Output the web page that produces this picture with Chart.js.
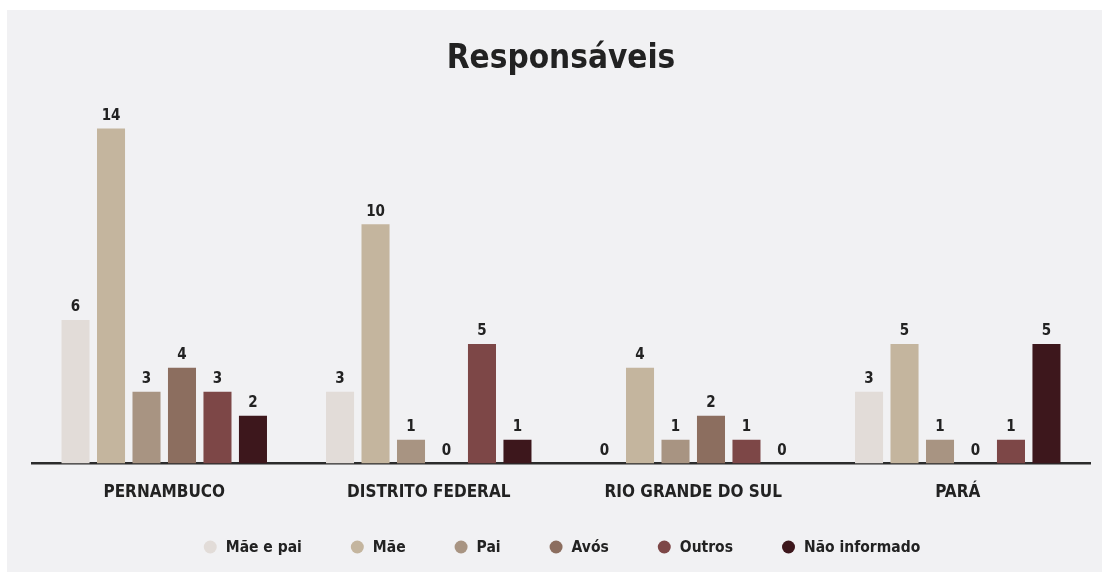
<!DOCTYPE html>
<html>
<head>
<meta charset="utf-8">
<script src="https://cdn.jsdelivr.net/npm/chart.js@4.4.1/dist/chart.umd.min.js"></script>
<style>
  html, body { margin: 0; padding: 0; background: #ffffff; }
  #wrap { width: 1102px; height: 572px; position: relative; }
</style>
</head>
<body>
<div id="wrap"><canvas id="chart"></canvas></div>
<script>
const categories = ['PERNAMBUCO', 'DISTRITO FEDERAL', 'RIO GRANDE DO SUL', 'PARÁ'];
const maeEPai = [6, 3, 0, 3];
const mae = [14, 10, 4, 5];
const pai = [3, 1, 1, 1];
const avos = [4, 0, 2, 0];
const outros = [3, 5, 1, 1];
const naoInformado = [2, 1, 0, 5];
const seriesNames = ['Mãe e pai', 'Mãe', 'Pai', 'Avós', 'Outros', 'Não informado'];
const seriesColors = ['#e2dcd8', '#c4b59e', '#a89482', '#8c6e5f', '#7d4747', '#3d171c'];

const FONT = "'DejaVu Sans Condensed', 'Liberation Sans Narrow', sans-serif";

// grey panel behind the chart
const panelBg = {
  id: 'panelBg',
  beforeDraw(chart) {
    const ctx = chart.ctx;
    ctx.save();
    ctx.fillStyle = '#f1f1f3';
    ctx.fillRect(7, 10, chart.width - 7, chart.height - 10);
    ctx.restore();
  }
};

// value above every bar
const barLabels = {
  id: 'barLabels',
  afterDatasetsDraw(chart) {
    const ctx = chart.ctx;
    ctx.save();
    ctx.font = 'bold 15px ' + FONT;
    ctx.fillStyle = '#222';
    ctx.textAlign = 'center';
    ctx.textBaseline = 'bottom';
    chart.data.datasets.forEach((ds, i) => {
      chart.getDatasetMeta(i).data.forEach((bar, j) => {
        ctx.fillText(ds.data[j], bar.x, bar.y - 5);
      });
    });
    ctx.restore();
  }
};

// legend row at the bottom, wide gaps between items
const bottomLegend = {
  id: 'bottomLegend',
  afterDraw(chart) {
    const ctx = chart.ctx;
    ctx.save();
    ctx.font = 'bold 15.5px ' + FONT;
    ctx.textBaseline = 'middle';
    ctx.textAlign = 'left';
    const r = 6.5, txtGap = 9, itemGap = 49;
    const widths = chart.data.datasets.map(ds => ctx.measureText(ds.label).width);
    let total = 0;
    widths.forEach((w, i) => { total += r * 2 + txtGap + w + (i < widths.length - 1 ? itemGap : 0); });
    let x = 562 - total / 2;
    const y = 547;
    chart.data.datasets.forEach((ds, i) => {
      ctx.fillStyle = ds.backgroundColor;
      ctx.beginPath();
      ctx.arc(x + r, y, r, 0, Math.PI * 2);
      ctx.fill();
      ctx.fillStyle = '#222';
      ctx.fillText(ds.label, x + r * 2 + txtGap, y + 1);
      x += r * 2 + txtGap + widths[i] + itemGap;
    });
    ctx.restore();
  }
};

const allData = [maeEPai, mae, pai, avos, outros, naoInformado];

new Chart(document.getElementById('chart'), {
  type: 'bar',
  data: {
    labels: categories,
    datasets: allData.map((d, i) => ({
      label: seriesNames[i],
      data: d,
      backgroundColor: seriesColors[i],
      categoryPercentage: 0.805,
      barPercentage: 0.79
    }))
  },
  options: {
    responsive: true,
    maintainAspectRatio: false,
    animation: false,
    layout: { padding: { left: 32, right: 12, top: 0, bottom: 50 } },
    plugins: {
      title: {
        display: true,
        text: 'Responsáveis',
        color: '#222',
        font: { family: FONT, size: 33, weight: 'bold' },
        padding: { top: 40, bottom: 1 }
      },
      legend: { display: false },
      tooltip: { enabled: false }
    },
    scales: {
      x: {
        grid: { display: false, drawTicks: false },
        border: { display: true, color: '#2b2b2b', width: 2.5 },
        ticks: {
          color: '#222',
          padding: 19,
          font: { family: FONT, size: 17, weight: 'bold' }
        }
      },
      y: {
        display: false,
        min: 0,
        max: 16
      }
    }
  },
  plugins: [panelBg, barLabels, bottomLegend]
});
</script>
</body>
</html>
